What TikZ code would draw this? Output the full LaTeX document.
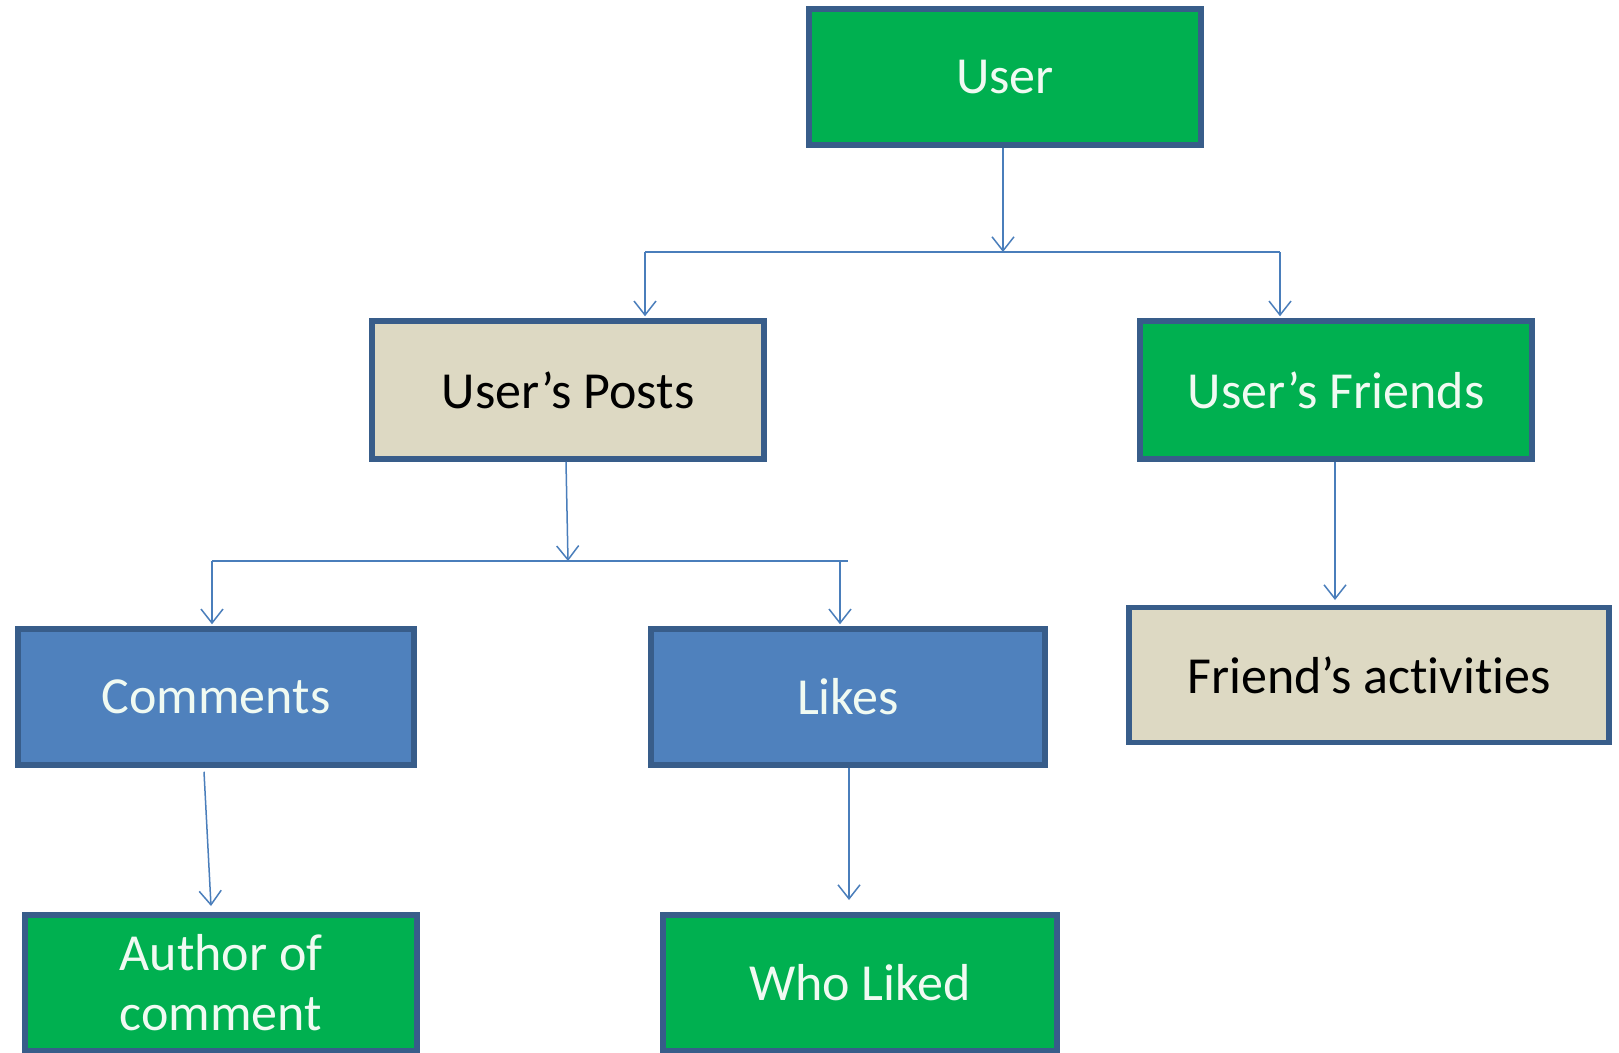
\documentclass[tikz,border=0pt]{standalone}
\usepackage{fontspec}
\setmainfont[Ligatures=NoCommon]{Carlito}
\usetikzlibrary{arrows.meta,positioning,calc}
\definecolor{boxgreen}{HTML}{00B050}
\definecolor{boxblue}{HTML}{4F81BD}
\definecolor{boxbeige}{HTML}{DDD9C3}
\definecolor{boxborder}{HTML}{385D8A}
\definecolor{linkcol}{HTML}{4A7EBB}
\definecolor{paletext}{HTML}{F0FAF2}
\tikzset{
  box/.style={draw=boxborder, line width=5.5pt, rectangle, minimum width=392pt,
    minimum height=136pt, inner sep=0pt, align=center,
    font=\fontsize{52}{60}\selectfont},
  greenbox/.style={box, fill=boxgreen, text=paletext},
  bluebox/.style={box, fill=boxblue, text=paletext},
  beigebox/.style={box, fill=boxbeige, text=black},
  link/.style={draw=linkcol, line width=1.5pt},
  arr/.style={link, -{Straight Barb[length=14pt,width=22pt,line width=1.5pt]}}
}
\begin{document}
\begin{tikzpicture}[x=1pt,y=-1pt]
\useasboundingbox[fill=white] (0,0) rectangle (1619,1052);
% nodes
\node[greenbox] (user) at (1005,77) {User};
\node[beigebox, minimum height=138pt] (posts) at (568,390) {User’s Posts};
\node[greenbox, minimum height=138pt] (friends) at (1336,390) {User’s Friends};
\node[bluebox, minimum width=396pt] (comments) at (216,697) {Comments};
\node[bluebox, minimum width=394pt] (likes) at (848,697) {Likes};
\node[beigebox, minimum width=480pt, minimum height=135pt] (activities) at (1369,675) {Friend’s activities};
\node[greenbox] (author) at (221,983) {Author of\\comment};
\node[greenbox, minimum width=394pt] (wholiked) at (860,983) {Who Liked};
% junction coordinates
\coordinate (j1) at (1003,252);
\coordinate (b1l) at (645,252);
\coordinate (b1r) at (1280,252);
\coordinate (j2) at (568,561);
\coordinate (b2l) at (212,561);
\coordinate (b2r) at (848,561);
\coordinate (b2d) at (840,561);
\coordinate (ca) at (204,772);
\coordinate (cb) at (211,906);
\coordinate (la) at (849,767);
\coordinate (lb) at (849,900);
\coordinate (fa) at (1335,600);
% connectors
\draw[arr] (j1 |- user.south) -- (j1);
\draw[link] (b1l) -- (b1r);
\draw[arr] (b1l) -- ($(b1l |- posts.north)+(0,-2)$);
\draw[arr] (b1r) -- ($(b1r |- friends.north)+(0,-2)$);
\draw[arr] ($(posts.south)+(-2,0)$) -- (j2);
\draw[link] (b2l) -- (b2r);
\draw[arr] (b2l) -- ($(b2l |- comments.north)+(0,-2)$);
\draw[arr] (b2d) -- ($(b2d |- likes.north)+(0,-2)$);
\draw[arr] (fa |- friends.south) -- (fa);
\draw[arr] (ca |- comments.south) ++(0,4) -- (cb);
\draw[arr] (la |- likes.south) -- (lb);
\end{tikzpicture}
\end{document}
